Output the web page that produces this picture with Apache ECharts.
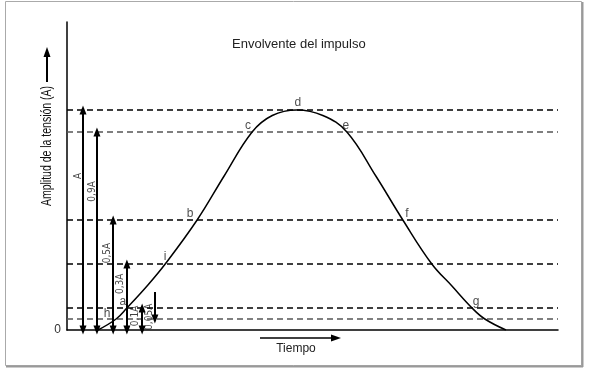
<!DOCTYPE html>
<html><head><meta charset="utf-8">
<script src="https://cdn.jsdelivr.net/npm/echarts@6/dist/echarts.min.js"></script>
<style>html,body{margin:0;padding:0;background:#fff}#c{width:589px;height:376px}</style>
</head><body><div id="c"></div>
<script>
// ---- data ----
const title = 'Envolvente del impulso';
const yName = 'Amplitud de la tensión (A)';
const xName = 'Tiempo';
const levels = [1, 0.9, 0.5, 0.3, 0.1, 0.05];
const levelNames = ['A', '0,9A', '0,5A', '0,3A', '0,1A', '0,05A'];
const timeVals = [6.3, 10.0, 12.2, 16.3, 20.0, 26.5, 32.0, 37.7, 41.8, 46.8, 52.1, 57.0, 62.9, 68.4, 74.3, 78.4, 82.5, 85.1, 89.4];
const ampVals  = [0, 0.05, 0.1, 0.2, 0.3, 0.5, 0.7, 0.9, 0.975, 1, 0.975, 0.9, 0.7, 0.5, 0.3, 0.2, 0.1, 0.05, 0];
const pointNames = ['h', 'a', 'i', 'b', 'c', 'd', 'e', 'f', 'g'];
const pointIdx = [1, 2, 4, 5, 7, 9, 11, 13, 16];

// ---- annotation layout ----
const arrowX = [3.26, 6.1, 9.4, 12.2, 15.3, 17.9];
const labelShift = [1.0, 1.0, 1.2, 1.4, 1.3, 1.1];
const labelOffsets = {a:[-4,-6], b:[-7,-6], c:[-4,-6], d:[1,-7], e:[-1,-6], f:[4,-6], g:[4,-6], h:[-9,-5], i:[0,-7]};
const narrow = "'Liberation Sans Narrow', 'DejaVu Sans Condensed', Arial, sans-serif";

const chart = echarts.init(document.getElementById('c'), null, {renderer: 'canvas'});

const levelLines = levels.map(v => ({
  yAxis: v,
  lineStyle: {color: (v === 0.9 || v === 0.05) ? '#555' : '#000', type: [6, 4], width: 1.5}
}));

const arrowLines = levels.map((v, i) => {
  if (i === levels.length - 1) {
    return [{coord: [arrowX[i], 0.173], symbol: 'none'}, {coord: [arrowX[i], v], symbol: 'triangle'}];
  }
  return [{coord: [arrowX[i], 0]}, {coord: [arrowX[i], v]}];
});

const dimLabels = levels.map((v, i) => {
  let y = v * 0.7;
  if (v === 0.1) y = 0.064;
  if (v === 0.05) y = 0.06;
  return {value: [arrowX[i] - labelShift[i], y], name: levelNames[i]};
});

const curve = timeVals.map((t, i) => [t, ampVals[i]]);
const pts = pointNames.map((n, k) => ({
  value: curve[pointIdx[k]], name: n,
  label: {offset: labelOffsets[n]}
}));

chart.setOption({
  animation: false,
  backgroundColor: '#fff',
  grid: {left: 67, right: 31, top: 22, bottom: 46},
  xAxis: {
    type: 'value', min: 0, max: 100,
    axisLine: {show: true, lineStyle: {color: '#000', width: 1.5}},
    axisTick: {show: false}, axisLabel: {show: false}, splitLine: {show: false}
  },
  yAxis: {
    type: 'value', min: 0, max: 1.4, interval: 0.2,
    axisLine: {show: true, lineStyle: {color: '#000', width: 1.5}},
    axisTick: {show: false}, splitLine: {show: false},
    axisLabel: {formatter: v => v === 0 ? '0' : '', color: '#333', fontSize: 12, fontFamily: 'Arial, Liberation Sans', margin: 6}
  },
  graphic: [
    {type: 'rect', shape: {x: 5.5, y: 1.5, width: 576, height: 364}, style: {fill: 'none', stroke: '#aaa', lineWidth: 1}, z: 100},
    {type: 'line', shape: {x1: 6, y1: 366.5, x2: 583, y2: 366.5}, style: {stroke: '#999', lineWidth: 2}, z: 100},
    {type: 'line', shape: {x1: 582.5, y1: 2, x2: 582.5, y2: 367}, style: {stroke: '#999', lineWidth: 2}, z: 100},
    {type: 'text', left: 232, top: 38, style: {text: title, fontSize: 13, fontFamily: 'Arial, Liberation Sans', fill: '#222'}},
    {type: 'text', x: 47, y: 146, rotation: Math.PI / 2, scaleX: 0.75, style: {text: yName, fontSize: 14, fontFamily: 'Arial, Liberation Sans', fill: '#111', align: 'center', verticalAlign: 'middle'}},
    {type: 'line', shape: {x1: 47, y1: 82, x2: 47, y2: 56}, style: {stroke: '#000', lineWidth: 2}},
    {type: 'polygon', shape: {points: [[47, 47], [43.5, 57], [50.5, 57]]}, style: {fill: '#000'}},
    {type: 'line', shape: {x1: 260, y1: 338, x2: 332, y2: 338}, style: {stroke: '#000', lineWidth: 1.5}},
    {type: 'polygon', shape: {points: [[341, 338], [331, 334.5], [331, 341.5]]}, style: {fill: '#000'}},
    {type: 'text', x: 296, y: 349, style: {text: xName, fontSize: 12, fontFamily: 'Arial, Liberation Sans', fill: '#222', align: 'center', verticalAlign: 'middle'}}
  ],
  series: [
    {
      type: 'line', name: 'levels', data: [], silent: true,
      markLine: {symbol: 'none', silent: true, label: {show: false}, data: levelLines}
    },
    {
      type: 'line', name: 'dims', data: [], silent: true,
      markLine: {
        symbol: ['triangle', 'triangle'], symbolSize: [7, 9], silent: true, label: {show: false},
        lineStyle: {color: '#000', type: 'solid', width: 2}, data: arrowLines
      }
    },
    {
      type: 'line', name: 'envelope', data: curve, smooth: 0.4, showSymbol: false,
      lineStyle: {color: '#000', width: 1.5}, z: 5
    },
    {
      type: 'scatter', name: 'points', data: pts, symbolSize: 0,
      label: {show: true, position: 'inside', formatter: p => p.name, color: '#222', fontSize: 12, fontFamily: 'Arial, Liberation Sans'}
    },
    {
      type: 'scatter', name: 'dimLabels', data: dimLabels, symbolSize: 0,
      label: {show: true, position: 'inside', rotate: 90, formatter: p => p.name, color: '#111', fontSize: 10, fontFamily: narrow}
    }
  ]
});
</script></body></html>
